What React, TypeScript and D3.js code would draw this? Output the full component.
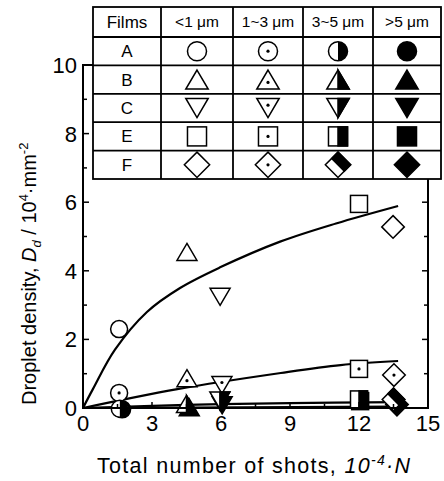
import React from "react";
import * as d3 from "d3";

// Films and droplet size classes
const films = ["A", "B", "C", "E", "F"];
const sizeClasses = ["<1 μm", "1~3 μm", "3~5 μm", ">5 μm"];
const shapes = ["circle", "triangleUp", "triangleDown", "square", "diamond"];
const fills = ["open", "dot", "half", "filled"];

// shots (10^4) and droplet density (10^4 mm^-2), one entry per film
const lt1X = [1.57, 4.52, 5.96, 12.0, 13.48];
const lt1Y = [2.3, 4.55, 3.24, 5.95, 5.28];
const s13X = [1.57, 4.52, 6.04, 12.0, 13.52];
const s13Y = [0.44, 0.87, 0.67, 1.14, 0.96];
const s35X = [1.6, 4.5, 5.95, 12.0, 13.5];
const s35Y = [-0.02, 0.12, 0.22, 0.25, 0.25];
const gt5X = [1.7, 4.62, 6.05, 12.05, 13.65];
const gt5Y = [-0.04, 0.02, 0.08, 0.2, 0.1];

// fitted curves
const fitUpper = [[0, 0], [0.43, 0.55], [1.39, 1.7], [2.78, 2.8], [4.22, 3.5], [5.96, 4.1], [8.57, 4.85], [11, 5.38], [13.7, 5.89]];
const fitMiddle = [[0, 0], [4.1, 0.55], [8.6, 1.02], [11.2, 1.25], [13.7, 1.37]];
const fitLow1 = [[0, 0], [4.5, 0.09], [9, 0.14], [13.7, 0.17]];
const fitLow2 = [[0, 0], [13.7, 0.04]];

const xMajor = [0, 3, 6, 9, 12, 15];
const xMinor = [1.5, 4.5, 7.5, 10.5, 13.5];
const yMajor = [0, 2, 4, 6, 8, 10];
const yMinor = [1, 3, 5, 7, 9];

const FONT = "'Liberation Sans', Arial, Helvetica, sans-serif";

const Marker = ({ shape, fill, x, y, s = 1 }) => {
  const sw = 1.5;
  const white = fill === "filled" ? "#000" : "#fff";
  let outline = null;
  let half = null;
  let dotY = 0;
  if (shape === "circle") {
    const r = 8.5 * s;
    outline = <circle r={r} fill={white} stroke="#000" strokeWidth={sw} />;
    half = <path d={`M0,${-r}A${r},${r} 0 0 1 0,${r}Z`} fill="#000" />;
  } else if (shape === "triangleUp") {
    const w = 10 * s, h = 8.5 * s;
    outline = <polygon points={`0,${-h} ${w},${h} ${-w},${h}`} fill={white} stroke="#000" strokeWidth={sw} />;
    half = <polygon points={`0,${-h} ${w},${h} 0,${h}`} fill="#000" stroke="#000" strokeWidth={sw} />;
    dotY = 2.5 * s;
  } else if (shape === "triangleDown") {
    const w = 10 * s, h = 8.5 * s;
    outline = <polygon points={`0,${h} ${w},${-h} ${-w},${-h}`} fill={white} stroke="#000" strokeWidth={sw} />;
    half = <polygon points={`0,${h} ${w},${-h} 0,${-h}`} fill="#000" stroke="#000" strokeWidth={sw} />;
    dotY = -2.5 * s;
  } else if (shape === "square") {
    const a = 8.5 * s;
    outline = <rect x={-a} y={-a} width={2 * a} height={2 * a} fill={white} stroke="#000" strokeWidth={sw} />;
    half = <rect x={0} y={-a} width={a} height={2 * a} fill="#000" stroke="#000" strokeWidth={sw} />;
  } else {
    const d = 11.3 * s;
    outline = <polygon points={`0,${-d} ${d},0 0,${d} ${-d},0`} fill={white} stroke="#000" strokeWidth={sw} />;
    half = <polygon points={`${-d / 2},${-d / 2} 0,${-d} ${d},0 ${d / 2},${d / 2}`} fill="#000" stroke="#000" strokeWidth={sw} />;
  }
  return (
    <g transform={`translate(${x},${y})`}>
      {outline}
      {fill === "half" && half}
      {fill === "dot" && <circle cy={dotY} r={1.6} fill="#000" />}
    </g>
  );
};

const App = () => {
  const width = 444;
  const height = 481;
  const xScale = d3.scaleLinear().domain([0, 15]).range([83, 428]);
  const yScale = d3.scaleLinear().domain([0, 10]).range([408, 65]);

  const lineGen = d3
    .line()
    .x((d) => xScale(d[0]))
    .y((d) => yScale(d[1]))
    .curve(d3.curveCatmullRom.alpha(0.5));

  const series = [
    { xs: lt1X, ys: lt1Y, fill: "open" },
    { xs: s13X, ys: s13Y, fill: "dot" },
    { xs: gt5X, ys: gt5Y, fill: "filled" },
    { xs: s35X, ys: s35Y, fill: "half" },
  ];

  const [x0, x1] = xScale.range();
  const [yb, yt] = yScale.range();

  // table layout
  const colX = [93, 161, 233, 303, 373, 441];
  const rowY = [7, 37];
  films.forEach((_, i) => rowY.push(37 + (i + 1) * 28.4));

  return (
    <svg width={width} height={height} style={{ position: "absolute", left: 0, top: 0 }} fontFamily={FONT}>
      <rect width={width} height={height} fill="#fff" />

      {/* fit lines */}
      {[fitUpper, fitMiddle, fitLow1, fitLow2].map((f, i) => (
        <path key={i} d={lineGen(f)} fill="none" stroke="#000" strokeWidth={2.2} />
      ))}

      {/* markers */}
      {series.map((s, si) =>
        s.xs.map((xv, i) => (
          <Marker key={`${si}-${i}`} shape={shapes[i]} fill={s.fill} x={xScale(xv)} y={yScale(s.ys[i])} />
        ))
      )}

      {/* frame */}
      <rect x={x0} y={yt} width={x1 - x0} height={yb - yt} fill="none" stroke="#000" strokeWidth={2} />

      {/* ticks */}
      <g stroke="#000" strokeWidth={1.5}>
        {xMajor.map((t) => (
          <line key={`xM${t}`} x1={xScale(t)} x2={xScale(t)} y1={yb} y2={yb - 6} />
        ))}
        {xMinor.map((t) => (
          <line key={`xm${t}`} x1={xScale(t)} x2={xScale(t)} y1={yb} y2={yb - 4} />
        ))}
        {yMajor.map((t) => (
          <g key={`yM${t}`}>
            <line x1={x0} x2={x0 + 6} y1={yScale(t)} y2={yScale(t)} />
            <line x1={x1} x2={x1 - 6} y1={yScale(t)} y2={yScale(t)} />
          </g>
        ))}
        {yMinor.map((t) => (
          <g key={`ym${t}`}>
            <line x1={x0} x2={x0 + 4} y1={yScale(t)} y2={yScale(t)} />
            <line x1={x1} x2={x1 - 4} y1={yScale(t)} y2={yScale(t)} />
          </g>
        ))}
      </g>

      {/* tick labels */}
      <g fontSize={22} fill="#000">
        {xMajor.map((t) => (
          <text key={`xl${t}`} x={xScale(t)} y={431} textAnchor="middle">
            {t}
          </text>
        ))}
        {yMajor.map((t) => (
          <text key={`yl${t}`} x={77} y={yScale(t) + 8} textAnchor="end">
            {t}
          </text>
        ))}
      </g>

      {/* axis titles */}
      <text x={97} y={473} fontSize={21.5} letterSpacing={1.3}>
        Total number of shots,{" "}
        <tspan fontStyle="italic">10</tspan>
        <tspan fontStyle="italic" fontSize={14} dy={-8}>-4</tspan>
        <tspan fontStyle="italic" dy={8}>·N</tspan>
      </text>
      <text transform="translate(36,405) rotate(-90)" fontSize={20}>
        Droplet density, <tspan fontStyle="italic">D</tspan>
        <tspan fontStyle="italic" fontSize={13} dy={5}>d</tspan>
        <tspan dy={-5}> / 10</tspan>
        <tspan fontSize={13} dy={-8}>4</tspan>
        <tspan dy={8}>·mm</tspan>
        <tspan fontSize={13} dy={-8}>-2</tspan>
      </text>

      {/* legend table */}
      <rect x={colX[0]} y={rowY[0]} width={colX[5] - colX[0]} height={rowY[6] - rowY[0]} fill="#fff" stroke="#000" strokeWidth={1.8} />
      <g stroke="#000" strokeWidth={1.8}>
        {colX.slice(1, 5).map((cx) => (
          <line key={`c${cx}`} x1={cx} x2={cx} y1={rowY[0]} y2={rowY[6]} />
        ))}
        {rowY.slice(1, 6).map((ry) => (
          <line key={`r${ry}`} x1={colX[0]} x2={colX[5]} y1={ry} y2={ry} />
        ))}
      </g>
      <text x={(colX[0] + colX[1]) / 2} y={(rowY[0] + rowY[1]) / 2 + 6} textAnchor="middle" fontSize={17}>
        Films
      </text>
      {sizeClasses.map((sc, j) => (
        <text key={sc} x={(colX[j + 1] + colX[j + 2]) / 2} y={(rowY[0] + rowY[1]) / 2 + 5} textAnchor="middle" fontSize={15.5}>
          {sc}
        </text>
      ))}
      {films.map((f, i) => {
        const cy = (rowY[i + 1] + rowY[i + 2]) / 2;
        return (
          <g key={f}>
            <text x={(colX[0] + colX[1]) / 2} y={cy + 6} textAnchor="middle" fontSize={17}>
              {f}
            </text>
            {fills.map((fl, j) => (
              <Marker key={fl} shape={shapes[i]} fill={fl} x={(colX[j + 1] + colX[j + 2]) / 2} y={cy} s={1.12} />
            ))}
          </g>
        );
      })}
    </svg>
  );
};

export default App;
